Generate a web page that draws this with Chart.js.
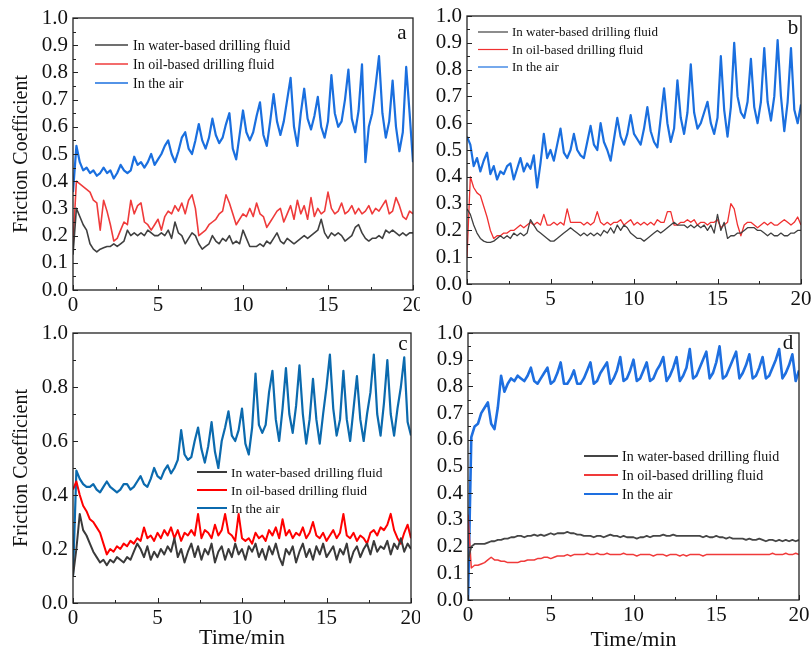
<!DOCTYPE html>
<html>
<head>
<meta charset="utf-8">
<title>Friction Coefficient</title>
<script src="https://cdn.jsdelivr.net/npm/chart.js@4/dist/chart.umd.min.js"></script>
<style>
  body { margin: 0; background: #fff; }
  .panel { position: absolute; }
  .panel canvas { display: block; }
</style>
</head>
<body>
<div class="panel" style="left:0;top:0"><canvas id="chartA" width="420" height="320"></canvas></div>
<div class="panel" style="left:420px;top:0"><canvas id="chartB" width="391" height="320"></canvas></div>
<div class="panel" style="left:0;top:320px"><canvas id="chartC" width="420" height="335"></canvas></div>
<div class="panel" style="left:420px;top:320px"><canvas id="chartD" width="391" height="335"></canvas></div>
<script>
// sampling grid, minutes (0, 0.2, ... 20)
const time = Array.from({ length: 101 }, (_, i) => +(i * 0.2).toFixed(1));
const labels = ["In water-based drilling fluid", "In oil-based drilling fluid", "In the air"];
const xMajor = [0, 5, 10, 15, 20];

// panel a
const aWater = [
  0.13, 0.30, 0.27, 0.24, 0.22, 0.17, 0.15, 0.14, 0.15, 0.155,
  0.16, 0.16, 0.17, 0.16, 0.17, 0.18, 0.22, 0.20, 0.21, 0.20,
  0.21, 0.20, 0.22, 0.21, 0.20, 0.20, 0.21, 0.20, 0.22, 0.19,
  0.25, 0.21, 0.20, 0.17, 0.19, 0.21, 0.20, 0.17, 0.15, 0.16,
  0.17, 0.20, 0.18, 0.17, 0.19, 0.18, 0.20, 0.17, 0.18, 0.17,
  0.22, 0.19, 0.16, 0.16, 0.16, 0.17, 0.16, 0.18, 0.17, 0.19,
  0.21, 0.18, 0.17, 0.19, 0.18, 0.17, 0.18, 0.19, 0.20, 0.19,
  0.20, 0.21, 0.22, 0.26, 0.21, 0.19, 0.21, 0.20, 0.21, 0.20,
  0.18, 0.19, 0.20, 0.23, 0.24, 0.21, 0.19, 0.18, 0.19, 0.19,
  0.20, 0.19, 0.22, 0.21, 0.22, 0.21, 0.20, 0.21, 0.20, 0.21,
  0.21
];
const aOil = [
  0.17, 0.40, 0.39, 0.38, 0.37, 0.36, 0.33, 0.32, 0.22, 0.33,
  0.29, 0.24, 0.18, 0.19, 0.22, 0.25, 0.24, 0.33, 0.28, 0.31,
  0.32, 0.25, 0.24, 0.22, 0.24, 0.26, 0.22, 0.27, 0.29, 0.28,
  0.31, 0.29, 0.32, 0.28, 0.33, 0.35, 0.30, 0.20, 0.21, 0.22,
  0.24, 0.25, 0.26, 0.28, 0.29, 0.35, 0.32, 0.28, 0.24, 0.26,
  0.28, 0.27, 0.30, 0.27, 0.32, 0.28, 0.27, 0.23, 0.25, 0.27,
  0.29, 0.30, 0.25, 0.28, 0.31, 0.26, 0.33, 0.28, 0.31, 0.26,
  0.34, 0.27, 0.30, 0.28, 0.29, 0.36, 0.30, 0.28, 0.29, 0.32,
  0.28, 0.29, 0.31, 0.28, 0.30, 0.28, 0.29, 0.31, 0.28, 0.30,
  0.29, 0.31, 0.33, 0.28, 0.29, 0.34, 0.31, 0.27, 0.26, 0.29,
  0.28
];
const aAir = [
  0.36, 0.53, 0.47, 0.44, 0.45, 0.43, 0.44, 0.42, 0.43, 0.45,
  0.43, 0.44, 0.41, 0.43, 0.46, 0.44, 0.43, 0.44, 0.49, 0.46,
  0.47, 0.45, 0.47, 0.50, 0.46, 0.48, 0.50, 0.53, 0.55, 0.50,
  0.47, 0.51, 0.56, 0.58, 0.52, 0.50, 0.55, 0.61, 0.55, 0.52,
  0.56, 0.63, 0.57, 0.54, 0.56, 0.61, 0.65, 0.52, 0.48, 0.57,
  0.66, 0.58, 0.55, 0.58, 0.64, 0.69, 0.57, 0.53, 0.62, 0.72,
  0.62, 0.57, 0.62, 0.70, 0.78, 0.60, 0.53, 0.65, 0.74, 0.63,
  0.59, 0.64, 0.71, 0.60, 0.56, 0.62, 0.79, 0.65, 0.60, 0.62,
  0.70, 0.81, 0.63, 0.58, 0.66, 0.83, 0.47, 0.60, 0.65, 0.75,
  0.86, 0.65, 0.56, 0.62, 0.77, 0.60, 0.51, 0.58, 0.82, 0.65,
  0.47
];

// panel b
const bWater = [
  0.28, 0.26, 0.22, 0.19, 0.17, 0.16, 0.155, 0.155, 0.16, 0.17,
  0.18, 0.17, 0.18, 0.17, 0.19, 0.18, 0.19, 0.18, 0.19, 0.24,
  0.22, 0.20, 0.19, 0.18, 0.17, 0.16, 0.16, 0.17, 0.18, 0.19,
  0.20, 0.21, 0.20, 0.19, 0.18, 0.19, 0.18, 0.19, 0.18, 0.19,
  0.18, 0.20, 0.19, 0.21, 0.19, 0.22, 0.20, 0.22, 0.21, 0.19,
  0.18, 0.17, 0.17, 0.16, 0.17, 0.18, 0.19, 0.20, 0.19, 0.20,
  0.21, 0.22, 0.23, 0.22, 0.22, 0.22, 0.21, 0.22, 0.21, 0.22,
  0.21, 0.22, 0.20, 0.22, 0.19, 0.26, 0.20, 0.23, 0.17, 0.18,
  0.18, 0.19, 0.19, 0.20, 0.21, 0.21, 0.21, 0.20, 0.20, 0.19,
  0.18, 0.19, 0.18, 0.18, 0.19, 0.18, 0.18, 0.19, 0.19, 0.20,
  0.20
];
const bOil = [
  0.10, 0.40, 0.36, 0.34, 0.33, 0.29, 0.25, 0.20, 0.17, 0.18,
  0.18, 0.19, 0.19, 0.20, 0.20, 0.21, 0.22, 0.21, 0.22, 0.23,
  0.22, 0.23, 0.22, 0.26, 0.22, 0.22, 0.23, 0.22, 0.23, 0.22,
  0.28, 0.23, 0.23, 0.23, 0.23, 0.22, 0.23, 0.22, 0.23, 0.27,
  0.23, 0.22, 0.23, 0.22, 0.23, 0.23, 0.24, 0.22, 0.23, 0.24,
  0.22, 0.23, 0.22, 0.23, 0.22, 0.23, 0.22, 0.24, 0.23, 0.23,
  0.27, 0.27, 0.22, 0.22, 0.23, 0.23, 0.24, 0.23, 0.24, 0.22,
  0.23, 0.23, 0.22, 0.23, 0.23, 0.24, 0.21, 0.22, 0.23, 0.30,
  0.28, 0.22, 0.18, 0.22, 0.23, 0.23, 0.22, 0.21, 0.22, 0.23,
  0.22, 0.23, 0.22, 0.22, 0.23, 0.24, 0.23, 0.22, 0.23, 0.25,
  0.22
];
const bAir = [
  0.55, 0.52, 0.44, 0.47, 0.42, 0.46, 0.49, 0.41, 0.44, 0.39,
  0.42, 0.41, 0.44, 0.45, 0.39, 0.43, 0.47, 0.42, 0.45, 0.43,
  0.48, 0.36, 0.45, 0.56, 0.47, 0.50, 0.46, 0.52, 0.58, 0.49,
  0.47, 0.50, 0.56, 0.50, 0.48, 0.47, 0.53, 0.59, 0.52, 0.50,
  0.60, 0.53, 0.50, 0.46, 0.54, 0.62, 0.55, 0.52, 0.56, 0.63,
  0.56, 0.54, 0.52, 0.58, 0.66, 0.57, 0.53, 0.51, 0.62, 0.73,
  0.60, 0.53, 0.58, 0.76, 0.62, 0.56, 0.64, 0.82, 0.64, 0.58,
  0.60, 0.64, 0.68, 0.60, 0.56, 0.62, 0.85, 0.65, 0.55, 0.66,
  0.90, 0.70, 0.64, 0.62, 0.68, 0.84, 0.66, 0.60, 0.68, 0.88,
  0.68, 0.61, 0.70, 0.91, 0.70, 0.57, 0.68, 0.88, 0.65, 0.60,
  0.67
];

// panel c
const cWater = [
  0.10, 0.20, 0.33, 0.27, 0.25, 0.22, 0.19, 0.17, 0.15, 0.16,
  0.14, 0.16, 0.15, 0.17, 0.16, 0.15, 0.17, 0.16, 0.19, 0.22,
  0.20, 0.17, 0.21, 0.16, 0.19, 0.17, 0.20, 0.18, 0.21, 0.19,
  0.24, 0.17, 0.20, 0.15, 0.19, 0.22, 0.17, 0.21, 0.16, 0.20,
  0.18, 0.22, 0.15, 0.19, 0.21, 0.16, 0.20, 0.17, 0.22, 0.18,
  0.20, 0.16, 0.21, 0.19, 0.22, 0.17, 0.20, 0.16, 0.21, 0.18,
  0.22, 0.17, 0.14, 0.20, 0.18, 0.21, 0.15, 0.19, 0.22, 0.17,
  0.20, 0.16, 0.21, 0.18, 0.22, 0.17, 0.19, 0.21, 0.16, 0.20,
  0.18, 0.22, 0.15, 0.19, 0.21, 0.17, 0.20, 0.22, 0.18, 0.23,
  0.19, 0.21, 0.20, 0.23, 0.18, 0.22, 0.20, 0.24, 0.19, 0.22,
  0.20
];
const cOil = [
  0.42, 0.45, 0.40, 0.36, 0.34, 0.31, 0.30, 0.28, 0.26, 0.22,
  0.18, 0.20, 0.19, 0.21, 0.20, 0.22, 0.21, 0.23, 0.22, 0.24,
  0.23, 0.28, 0.24, 0.25, 0.23, 0.26, 0.24, 0.27, 0.25, 0.28,
  0.24, 0.27, 0.23, 0.26, 0.25, 0.27, 0.25, 0.33, 0.24, 0.27,
  0.26, 0.24, 0.29, 0.25, 0.27, 0.33, 0.26, 0.25, 0.23, 0.33,
  0.24, 0.23, 0.24, 0.22, 0.26, 0.24, 0.25, 0.23, 0.27, 0.25,
  0.28, 0.24, 0.31, 0.25, 0.27, 0.24, 0.26, 0.25, 0.28, 0.24,
  0.26, 0.30, 0.25, 0.24, 0.26, 0.23, 0.25, 0.27, 0.24, 0.26,
  0.33, 0.25, 0.24, 0.26, 0.23, 0.25, 0.24, 0.22, 0.26, 0.27,
  0.25, 0.28, 0.27, 0.29, 0.33, 0.27, 0.24, 0.22, 0.26, 0.29,
  0.24
];
const cAir = [
  0.10, 0.49, 0.46, 0.44, 0.43, 0.43, 0.44, 0.42, 0.41, 0.43,
  0.45, 0.43, 0.42, 0.41, 0.42, 0.44, 0.44, 0.42, 0.43, 0.45,
  0.47, 0.44, 0.43, 0.46, 0.50, 0.47, 0.46, 0.49, 0.51, 0.48,
  0.50, 0.53, 0.64, 0.55, 0.53, 0.54, 0.60, 0.65, 0.57, 0.52,
  0.58, 0.67, 0.56, 0.50, 0.60, 0.65, 0.71, 0.62, 0.60, 0.64,
  0.72, 0.59, 0.55, 0.65, 0.85, 0.66, 0.63, 0.66, 0.78, 0.86,
  0.68, 0.60, 0.72, 0.87, 0.70, 0.63, 0.73, 0.88, 0.70, 0.59,
  0.68, 0.83, 0.68, 0.59, 0.70, 0.80, 0.92, 0.72, 0.62, 0.68,
  0.86, 0.68, 0.60, 0.72, 0.84, 0.68, 0.60, 0.70, 0.78, 0.92,
  0.70, 0.62, 0.74, 0.90, 0.70, 0.62, 0.72, 0.80, 0.91, 0.67,
  0.62
];

// panel d
const dWater = [
  0.15, 0.20, 0.21, 0.21, 0.21, 0.21, 0.215, 0.22, 0.22, 0.225,
  0.225, 0.23, 0.23, 0.235, 0.235, 0.24, 0.24, 0.235, 0.24, 0.24,
  0.245, 0.24, 0.245, 0.24, 0.245, 0.25, 0.245, 0.25, 0.25, 0.25,
  0.255, 0.25, 0.25, 0.245, 0.245, 0.24, 0.24, 0.24, 0.235, 0.24,
  0.24, 0.235, 0.24, 0.245, 0.24, 0.24, 0.235, 0.24, 0.235, 0.235,
  0.235, 0.23, 0.235, 0.235, 0.24, 0.235, 0.24, 0.24, 0.24, 0.245,
  0.24, 0.24, 0.245, 0.24, 0.24, 0.24, 0.24, 0.24, 0.24, 0.24,
  0.24, 0.235, 0.24, 0.235, 0.235, 0.24, 0.235, 0.235, 0.23, 0.235,
  0.23, 0.23, 0.23, 0.23, 0.225, 0.23, 0.225, 0.225, 0.23, 0.225,
  0.22, 0.225, 0.225, 0.22, 0.225, 0.22, 0.225, 0.22, 0.225, 0.22,
  0.225
];
const dOil = [
  0.32, 0.12, 0.13, 0.13, 0.135, 0.14, 0.15, 0.16, 0.15, 0.15,
  0.145, 0.145, 0.14, 0.14, 0.14, 0.14, 0.145, 0.145, 0.15, 0.15,
  0.15, 0.155, 0.155, 0.16, 0.16, 0.155, 0.16, 0.165, 0.165, 0.165,
  0.17, 0.165, 0.17, 0.17, 0.17, 0.17, 0.175, 0.17, 0.17, 0.175,
  0.17, 0.17, 0.175, 0.17, 0.17, 0.17, 0.17, 0.175, 0.17, 0.17,
  0.17, 0.165, 0.17, 0.17, 0.17, 0.17, 0.165, 0.17, 0.17, 0.17,
  0.165, 0.17, 0.17, 0.17, 0.165, 0.17, 0.165, 0.17, 0.17, 0.17,
  0.17, 0.165, 0.17, 0.17, 0.17, 0.17, 0.17, 0.17, 0.17, 0.17,
  0.17, 0.17, 0.17, 0.17, 0.17, 0.17, 0.17, 0.17, 0.17, 0.17,
  0.17, 0.17, 0.175, 0.17, 0.17, 0.17, 0.175, 0.17, 0.17, 0.175,
  0.17
];
const dAir = [
  0.00, 0.61, 0.65, 0.66, 0.70, 0.72, 0.74, 0.66, 0.64, 0.72,
  0.84, 0.78, 0.81, 0.83, 0.82, 0.84, 0.83, 0.82, 0.84, 0.87,
  0.82, 0.81, 0.83, 0.85, 0.87, 0.81, 0.82, 0.85, 0.89, 0.81,
  0.81, 0.83, 0.86, 0.81, 0.81, 0.83, 0.86, 0.89, 0.81, 0.82,
  0.85, 0.87, 0.89, 0.81, 0.83, 0.86, 0.91, 0.82, 0.83, 0.86,
  0.90, 0.82, 0.83, 0.86, 0.89, 0.82, 0.83, 0.86, 0.88, 0.91,
  0.82, 0.84, 0.87, 0.91, 0.82, 0.84, 0.87, 0.94, 0.83, 0.84,
  0.87, 0.90, 0.93, 0.83, 0.85, 0.89, 0.95, 0.83, 0.84, 0.87,
  0.90, 0.93, 0.83, 0.85, 0.88, 0.92, 0.83, 0.84, 0.87, 0.91,
  0.83, 0.84, 0.87, 0.90, 0.94, 0.83, 0.85, 0.88, 0.92, 0.82,
  0.86
];

const serif = "'Liberation Serif', 'Times New Roman', serif";

function points(values) {
  return values.map((v, i) => ({ x: time[i], y: v }));
}

// frame, inward ticks, legend and panel letter
const decorPlugin = {
  id: "decor",
  afterDatasetsDraw(chart, args, o) {
    const { ctx, chartArea: a } = chart;
    const xs = chart.scales.x, ys = chart.scales.y;
    ctx.save();
    ctx.strokeStyle = "#222";
    ctx.lineWidth = 1;
    ctx.beginPath();
    for (let v = 0; v <= 20; v += 2.5) {
      const px = Math.round(xs.getPixelForValue(v)) + 0.5;
      const len = xMajor.includes(v) ? 5 : 3;
      ctx.moveTo(px, a.bottom);
      ctx.lineTo(px, a.bottom - len);
    }
    const half = o.yStep / 2;
    const n = Math.round(1 / half);
    for (let k = 0; k <= n; k++) {
      const py = Math.round(ys.getPixelForValue(k * half)) + 0.5;
      const len = k % 2 === 0 ? 5 : 3;
      ctx.moveTo(a.left, py);
      ctx.lineTo(a.left + len, py);
    }
    ctx.stroke();
    ctx.lineWidth = 1.3;
    ctx.strokeRect(a.left, a.top, a.right - a.left, a.bottom - a.top);

    // legend
    const lg = o.legend;
    ctx.font = lg.size + "px " + serif;
    ctx.textBaseline = "middle";
    ctx.textAlign = "left";
    chart.data.datasets.forEach((ds, i) => {
      const y = lg.y + i * lg.gap;
      ctx.strokeStyle = ds.borderColor;
      ctx.lineWidth = lg.lineWidth;
      ctx.beginPath();
      ctx.moveTo(lg.x, y);
      ctx.lineTo(lg.x + lg.len, y);
      ctx.stroke();
      ctx.fillStyle = "#111";
      ctx.fillText(ds.label, lg.x + lg.len + lg.textGap, y + 1);
    });

    // panel letter
    ctx.font = "21px " + serif;
    ctx.textAlign = "center";
    ctx.fillStyle = "#111";
    ctx.fillText(o.letter, o.letterX, o.letterY);
    ctx.restore();
  }
};

function makeChart(id, cfg) {
  const datasets = [
    { label: labels[0], data: points(cfg.water), borderColor: cfg.colors[0], borderWidth: cfg.widths[0] },
    { label: labels[1], data: points(cfg.oil), borderColor: cfg.colors[1], borderWidth: cfg.widths[1] },
    { label: labels[2], data: points(cfg.air), borderColor: cfg.colors[2], borderWidth: cfg.widths[2] }
  ];
  datasets.forEach(d => {
    d.pointRadius = 0;
    d.tension = 0;
    d.fill = false;
    d.borderJoinStyle = "round";
  });
  return new Chart(document.getElementById(id), {
    type: "line",
    data: { datasets },
    options: {
      responsive: false,
      animation: false,
      layout: { padding: { left: 0, top: cfg.top, right: cfg.right, bottom: 0 } },
      plugins: {
        legend: { display: false },
        tooltip: { enabled: false },
        decor: { yStep: cfg.yStep, legend: cfg.legend, letter: cfg.letter, letterX: cfg.letterX, letterY: cfg.letterY }
      },
      scales: {
        x: {
          type: "linear",
          min: 0,
          max: 20,
          grid: { display: false, drawTicks: false, tickLength: 0 },
          border: { display: false },
          afterBuildTicks: s => { s.ticks = xMajor.map(v => ({ value: v })); },
          ticks: { font: { family: serif, size: 21 }, color: "#111", padding: 3, maxRotation: 0, autoSkip: false },
          title: {
            display: cfg.xTitle,
            text: "Time/min",
            font: { family: serif, size: 22 },
            color: "#111",
            padding: { top: 0, bottom: cfg.xTitlePad }
          },
          afterFit: s => { s.height = cfg.xH; s.paddingLeft = 0; s.paddingRight = 0; }
        },
        y: {
          min: 0,
          max: 1,
          grid: { display: false, drawTicks: false, tickLength: 0 },
          border: { display: false },
          ticks: {
            stepSize: cfg.yStep,
            autoSkip: false,
            font: { family: serif, size: 21 },
            color: "#111",
            padding: 5,
            callback: v => v.toFixed(1)
          },
          title: {
            display: cfg.yTitle,
            text: "Friction Coefficient",
            font: { family: serif, size: 20 },
            color: "#111",
            padding: { top: 10, bottom: 0 }
          },
          afterFit: s => { s.width = cfg.yW; s.paddingTop = 0; s.paddingBottom = 0; }
        }
      }
    },
    plugins: [decorPlugin]
  });
}

makeChart("chartA", {
  water: aWater, oil: aOil, air: aAir,
  colors: ["#404040", "#ef3b3b", "#1a6fdf"], widths: [1.6, 1.6, 2.2],
  top: 18, right: 7, yW: 73, xH: 30, yStep: 0.1, yTitle: true, xTitle: false, xTitlePad: 0,
  legend: { x: 95, len: 33, textGap: 5, y: 45, gap: 19, size: 14, lineWidth: 1.5 },
  letter: "a", letterX: 402, letterY: 33
});
makeChart("chartB", {
  water: bWater, oil: bOil, air: bAir,
  colors: ["#404040", "#f03030", "#1a6fdf"], widths: [1.3, 1.3, 2.2],
  top: 16, right: 10, yW: 47, xH: 36, yStep: 0.1, yTitle: false, xTitle: false, xTitlePad: 0,
  legend: { x: 58, len: 30, textGap: 4, y: 32, gap: 17.5, size: 13, lineWidth: 1.2 },
  letter: "b", letterX: 373, letterY: 28
});
makeChart("chartC", {
  water: cWater, oil: cOil, air: cAir,
  colors: ["#3a3a3a", "#ff0000", "#0b6aae"], widths: [2, 2, 2.2],
  top: 13, right: 9, yW: 73, xH: 52, yStep: 0.2, yTitle: true, xTitle: true, xTitlePad: 4,
  legend: { x: 197, len: 30, textGap: 4, y: 152, gap: 18, size: 13.5, lineWidth: 2 },
  letter: "c", letterX: 403, letterY: 24
});
makeChart("chartD", {
  water: dWater, oil: dOil, air: dAir,
  colors: ["#454545", "#f03a3a", "#1e6fe0"], widths: [1.8, 1.5, 2.6],
  top: 13, right: 12, yW: 48, xH: 55, yStep: 0.1, yTitle: false, xTitle: true, xTitlePad: 2,
  legend: { x: 164, len: 34, textGap: 4, y: 136, gap: 19, size: 14, lineWidth: 1.8 },
  letter: "d", letterX: 368, letterY: 23
});
</script>
</body>
</html>
